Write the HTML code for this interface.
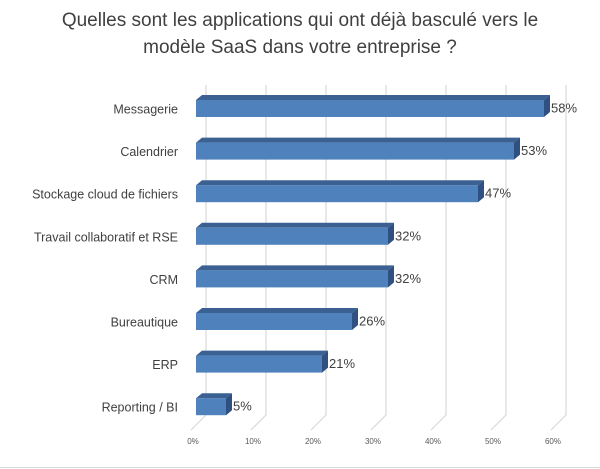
<!DOCTYPE html>
<html><head><meta charset="utf-8"><style>
body{margin:0;background:#fff;}
svg{display:block;font-family:"Liberation Sans",sans-serif;}
</style></head><body>
<svg width="600" height="469" viewBox="0 0 600 469">
<rect x="0" y="0" width="600" height="469" fill="#fff"/>
<text x="300" y="26" text-anchor="middle" font-size="19" fill="#404040">Quelles sont les applications qui ont déjà basculé vers le</text>
<text x="300" y="53" text-anchor="middle" font-size="19" fill="#404040">modèle SaaS dans votre entreprise ?</text>
<g id="grid"></g>
<g id="bars"></g>
<line x1="0" y1="467.5" x2="600" y2="467.5" stroke="#d9d9d9"/>
</svg>
<script>
const categories=["Messagerie","Calendrier","Stockage cloud de fichiers","Travail collaboratif et RSE","CRM","Bureautique","ERP","Reporting / BI"];
const values=[58,53,47,32,32,26,21,5];
const ticks=[0,10,20,30,40,50,60];
const NS="http://www.w3.org/2000/svg";
const x0=196, pxPer=6, dx=6, dy=5, top0=100, step=42.6, bh=17;
function X(v){return x0+v*pxPer;}
function mk(tag,attrs,parent){const e=document.createElementNS(NS,tag);for(const k in attrs)e.setAttribute(k,attrs[k]);parent.appendChild(e);return e;}
const grid=document.getElementById('grid'), bars=document.getElementById('bars');
ticks.forEach(t=>{
  const bx=X(t)+10;
  const l=mk('polyline',{points:`${bx},85 ${bx},415 ${X(t)-5},430`,fill:'none',stroke:'#d9d9d9','stroke-width':1.2},grid);
  
  
  const tx=mk('text',{x:X(t)-3,y:444,'text-anchor':'middle','font-size':8,fill:'#595959'},grid);
  tx.textContent=t+'%';
  
  
});
categories.forEach((c,i)=>{
  const y=top0+i*step, x1=X(values[i]);
  const g=mk('g',{},bars);
  
  
  mk('polygon',{points:`${x0},${y} ${x0+dx},${y-dy} ${x1+dx},${y-dy} ${x1},${y}`,fill:'#3a6192'},g);
  mk('polygon',{points:`${x1},${y} ${x1+dx},${y-dy} ${x1+dx},${y+bh-dy} ${x1},${y+bh}`,fill:'#2f5080'},g);
  mk('rect',{x:x0,y:y,width:x1-x0,height:bh,fill:'#4f81bd'},g);
  const lab=mk('text',{x:178,y:y+bh/2+5,'text-anchor':'end','font-size':12.5,fill:'#404040'},bars);
  lab.textContent=c;
  
  
  const vl=mk('text',{x:x1+dx+1,y:y+bh/2+4,'font-size':13,fill:'#404040'},bars);
  vl.textContent=values[i]+'%';
  
  
});
</script>
</body></html>
